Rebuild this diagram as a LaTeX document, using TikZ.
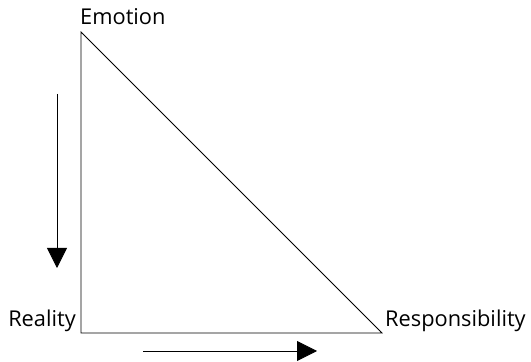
\documentclass[tikz,border=0pt]{standalone}
\usepackage{fontspec}
\setmainfont{Open Sans}
\usetikzlibrary{arrows.meta}

\begin{document}
\begin{tikzpicture}[x=1pt,y=1pt,
		label/.style={inner sep=0pt,font=\fontsize{21.8}{26}\selectfont},
		side/.style={line width=0.8pt},
		flow/.style={line width=0.8pt,-{Triangle[length=20pt,width=20pt]}}]
				\useasboundingbox (0,0) rectangle (531,362);
				
				% triangle
				\coordinate (top) at (81,330);
				\coordinate (left) at (81,29);
				\coordinate (right) at (382,29);
				\draw[side] (top) -- (left) -- (right) -- cycle;
				
				\node[label,anchor=base west] (emotion) at (80,337) {Emotion};
				\node[label,anchor=base east] (reality) at (76,35) {Reality};
				\node[label,anchor=base west] (responsibility) at (385,35) {Responsibility};
				
				% arrows
				\coordinate (downA) at (57,268);
				\coordinate (downB) at (57,94);
				\draw[flow] (downA) -- (downB);
				
				\coordinate (rightA) at (143,11);
				\coordinate (rightB) at (317,11);
				\draw[flow] (rightA) -- (rightB);
			\end{tikzpicture}
\end{document}
